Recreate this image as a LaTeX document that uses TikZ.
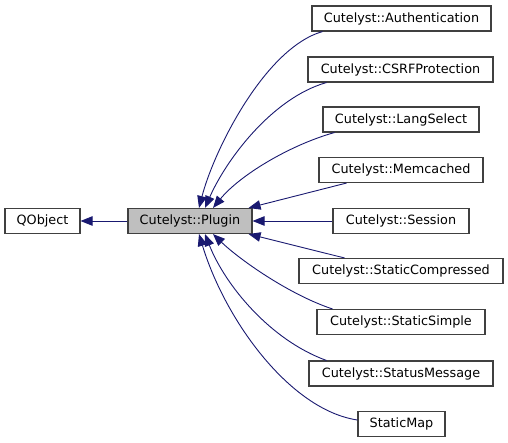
\documentclass[tikz,border=0pt]{standalone}
\usepackage{fontspec}
\setmainfont{DejaVu Sans}
\usetikzlibrary{arrows.meta}
\definecolor{edgeblue}{HTML}{191970}
\definecolor{boxline}{HTML}{404040}
\definecolor{basegray}{HTML}{BFBFBF}

\begin{document}
\begin{tikzpicture}[x=1pt,y=-1pt,
    cls/.style={draw=boxline, line width=1.1pt, fill=white, minimum height=25pt,
        inner sep=0pt, font=\fontsize{12.8}{14}\selectfont},
    edge/.style={edgeblue, line width=0.9pt, -{Triangle[length=12pt,width=9.5pt]}}]
    \useasboundingbox (0,0) rectangle (508,443);

    % Base classes
    \node[cls, minimum width=75pt] (qobject) at (42.5,221) {QObject};
    \node[cls, fill=basegray, minimum width=124pt] (plugin) at (190,221) {Cutelyst::Plugin};

    % Derived plugins
    \node[cls, minimum width=179pt] (auth) at (401.5,18.5) {Cutelyst::Authentication};
    \node[cls, minimum width=185pt] (csrf) at (400.5,69.5) {Cutelyst::CSRFProtection};
    \node[cls, minimum width=156pt] (lang) at (401,119.5) {Cutelyst::LangSelect};
    \node[cls, minimum width=164pt] (memc) at (401,170) {Cutelyst::Memcached};
    \node[cls, minimum width=136pt] (session) at (401,221) {Cutelyst::Session};
    \node[cls, minimum width=204pt] (statcomp) at (401,271) {Cutelyst::StaticCompressed};
    \node[cls, minimum width=168pt] (statsimple) at (401,322) {Cutelyst::StaticSimple};
    \node[cls, minimum width=184pt] (statmsg) at (401,373.5) {Cutelyst::StatusMessage};
    \node[cls, minimum width=87pt] (statmap) at (401.5,424) {StaticMap};

    % Inheritance edges
    \draw[edge] (plugin.west) -- (qobject.east);
    \draw[edge] ([xshift=11pt]auth.south west) .. controls (265,48) and (214,150) .. ([xshift=9pt]plugin.north);
    \draw[edge] ([xshift=19pt]csrf.south west) .. controls (272,98) and (226,160) .. ([xshift=15pt]plugin.north);
    \draw[edge] ([xshift=12pt]lang.south west) .. controls (290,145) and (240,175) .. ([xshift=23pt]plugin.north);
    \draw[edge] ([xshift=28pt]memc.south west) -- ([xshift=-4pt]plugin.north east);
    \draw[edge] (session.west) -- (plugin.east);
    \draw[edge] ([xshift=46pt]statcomp.north west) -- ([xshift=-4pt]plugin.south east);
    \draw[edge] ([xshift=16pt]statsimple.north west) .. controls (290,295) and (240,260) .. ([xshift=23pt]plugin.south);
    \draw[edge] ([xshift=18pt]statmsg.north west) .. controls (270,340) and (225,285) .. ([xshift=15pt]plugin.south);
    \draw[edge] ([yshift=4pt]statmap.west) .. controls (290,410) and (225,320) .. ([xshift=9pt]plugin.south);
\end{tikzpicture}
\end{document}
